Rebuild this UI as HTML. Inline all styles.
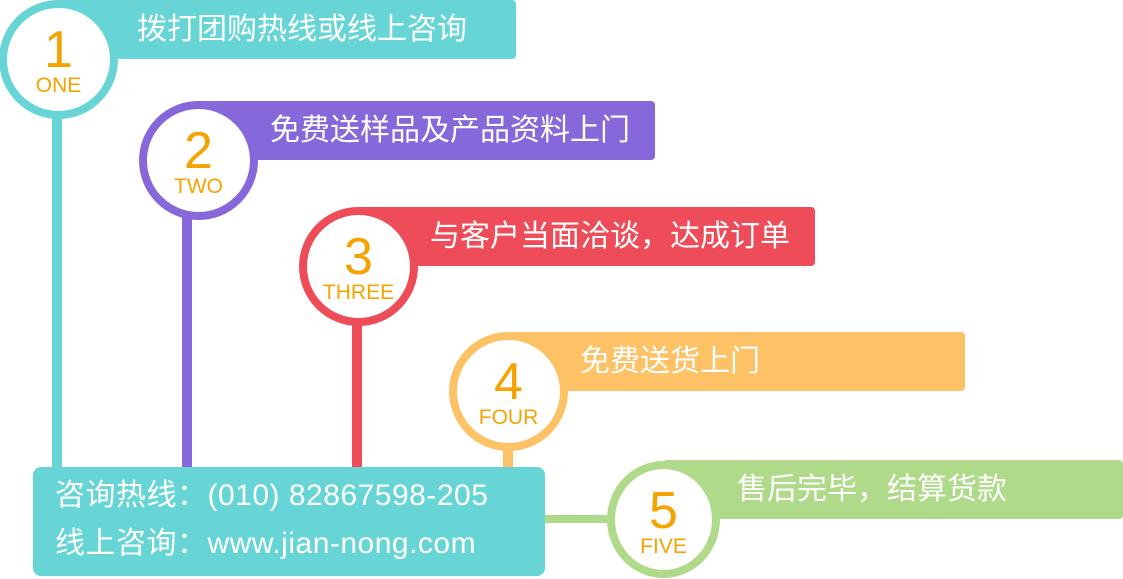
<!DOCTYPE html>
<html><head><meta charset="utf-8"><style>
body{margin:0;width:1123px;height:579px;background:#fff;position:relative;overflow:hidden;font-family:"Liberation Sans","Noto Sans CJK SC",sans-serif}
.a{position:absolute}
.bar{position:absolute;height:59px;border-radius:0 4px 4px 0;color:#fff;font-size:30px;line-height:59px;box-sizing:border-box;white-space:nowrap}
.c{position:absolute;width:103px;height:103px;border-radius:50%;background:#fff;border:8px solid;text-align:center;color:#f5a300}
.c .n{font-size:52px;line-height:52px;margin-top:16px}
.c .l{font-size:21px;line-height:20px}
.v{position:absolute;width:10px}
</style></head><body>
<div class="v" style="left:52px;top:100px;height:380px;background:#67d5d6"></div>
<div class="v" style="left:182px;top:200px;height:280px;background:#8668db"></div>
<div class="v" style="left:352px;top:310px;height:170px;background:#ef4c5a"></div>
<div class="v" style="left:503px;top:440px;height:40px;background:#fdc265"></div>
<div class="a" style="left:540px;top:515px;width:80px;height:8px;background:#aeda8a"></div>

<div class="bar" style="left:60px;top:0;width:456px;background:#67d5d6;padding-left:77px">拨打团购热线或线上咨询</div>
<div class="bar" style="left:200px;top:101px;width:455px;background:#8668db;padding-left:70px">免费送样品及产品资料上门</div>
<div class="bar" style="left:360px;top:207px;width:455px;background:#ef4c5a;padding-left:70px">与客户当面洽谈，达成订单</div>
<div class="bar" style="left:510px;top:332px;width:455px;background:#fdc265;padding-left:70px">免费送货上门</div>
<div class="bar" style="left:665px;top:460px;width:458px;background:#aeda8a;padding-left:72px">售后完毕，结算货款</div>

<div class="c" style="left:-1px;top:0;border-color:#67d5d6"><div class="n">1</div><div class="l">ONE</div></div>
<div class="c" style="left:139px;top:101px;border-color:#8668db"><div class="n">2</div><div class="l">TWO</div></div>
<div class="c" style="left:299px;top:207px;border-color:#ef4c5a"><div class="n">3</div><div class="l">THREE</div></div>
<div class="c" style="left:449px;top:332px;border-color:#fdc265"><div class="n">4</div><div class="l">FOUR</div></div>
<div class="c" style="left:607px;top:461px;width:97px;height:101px;border-color:#aeda8a"><div class="n">5</div><div class="l">FIVE</div></div>

<div class="a" style="left:33px;top:467px;width:512px;height:109px;background:#67d5d6;border-radius:8px;color:#fff;font-size:30px;line-height:48px;padding:5px 0 0 22px;box-sizing:border-box;letter-spacing:0.5px;white-space:nowrap">咨询热线：(010) 82867598-205<br>线上咨询：www.jian-nong.com</div>
</body></html>
